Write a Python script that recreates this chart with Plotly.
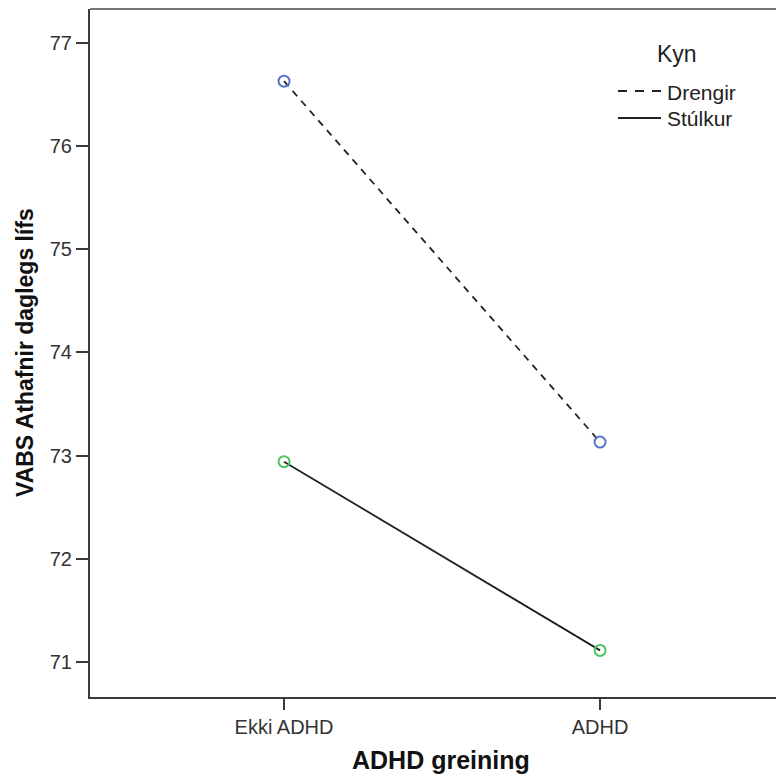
import plotly.graph_objects as go

categories = ["Ekki ADHD", "ADHD"]
drengir = [76.63, 73.13]
stulkur = [72.94, 71.11]
y_ticks = [71, 72, 73, 74, 75, 76, 77]
legend_title = "Kyn"

W, H = 776, 768
L, T, B, R = 82, 1, 79, 0
PW, PH = W - L - R, H - T - B


def px(fx):
    return (fx - L) / PW


def py(fy):
    return (H - B - fy) / PH


fig = go.Figure()

series = [
    ("Drengir", drengir, "7px,6px", "9px,8px", "#5b74cc"),
    ("Stúlkur", stulkur, "solid", "solid", "#4ec460"),
]
for name, vals, dash, ldash, mcol in series:
    fig.add_trace(go.Scatter(
        x=[0, 1], y=vals, mode="lines", name=name,
        line=dict(color="#222222", width=1.8, dash=dash),
        showlegend=False,
    ))
for name, vals, dash, ldash, mcol in series:
    fig.add_trace(go.Scatter(
        x=[0, 1], y=vals, mode="markers", name=name,
        marker=dict(symbol="circle-open", size=11, color=mcol, line=dict(width=2, color=mcol)),
        showlegend=False, hoverinfo="skip",
    ))

# manual legend (line samples + labels), positioned in page pixels minus 8px body offset
shapes = [dict(type="line", xref="paper", yref="paper", x0=0, x1=1, y0=1, y1=1,
               line=dict(color="#777777", width=2))]
annotations = [
    dict(text=legend_title, xref="paper", yref="paper", x=px(677 - 8), y=py(54 - 8),
         xanchor="center", yanchor="middle", showarrow=False,
         font=dict(size=23, color="#222222")),
]
leg_rows = [91, 118]
for (name, vals, dash, ldash, mcol), ly in zip(series, leg_rows):
    shapes.append(dict(type="line", xref="paper", yref="paper",
                       x0=px(618 - 8), x1=px(661 - 8), y0=py(ly - 8), y1=py(ly - 8),
                       line=dict(color="#222222", width=2, dash=ldash)))
    annotations.append(dict(text=name, xref="paper", yref="paper", x=px(665 - 8), y=py(ly + 1 - 8),
                            xanchor="left", yanchor="middle", showarrow=False,
                            font=dict(size=21, color="#222222")))

annotations += [
    dict(text="<b>ADHD greining</b>", xref="paper", yref="paper", x=px(432.5), y=0,
         yshift=-63, xanchor="center", yanchor="middle", showarrow=False,
         font=dict(size=25, color="#111111")),
    dict(text="<b>VABS Athafnir daglegs lífs</b>", xref="paper", yref="paper", x=0, xshift=-65,
         y=py(345), xanchor="center", yanchor="middle", textangle=-90, showarrow=False,
         font=dict(size=23, color="#111111")),
]

fig.update_layout(
    width=W, height=H,
    margin=dict(l=L, r=R, t=T, b=B, pad=0),
    plot_bgcolor="white", paper_bgcolor="white",
    font=dict(family="Arial, Liberation Sans, sans-serif", size=20, color="#333333"),
    xaxis=dict(
        range=[-0.614, 1.582], tickmode="array", tickvals=[0, 1], ticktext=categories,
        showline=True, linecolor="#3a3a3a", linewidth=2, mirror=False,
        ticks="outside", ticklen=11, tickwidth=2, tickcolor="#3a3a3a",
        showgrid=False, zeroline=False, tickfont=dict(size=20, color="#333333"),
    ),
    yaxis=dict(
        range=[70.658, 77.33], tickmode="array", tickvals=y_ticks,
        showline=True, linecolor="#3a3a3a", linewidth=2,
        ticks="outside", ticklen=12, tickwidth=2, tickcolor="#3a3a3a",
        showgrid=False, zeroline=False, tickfont=dict(size=20, color="#333333"),
    ),
    showlegend=False,
    shapes=shapes,
    annotations=annotations,
)

fig.write_html("out.html")
